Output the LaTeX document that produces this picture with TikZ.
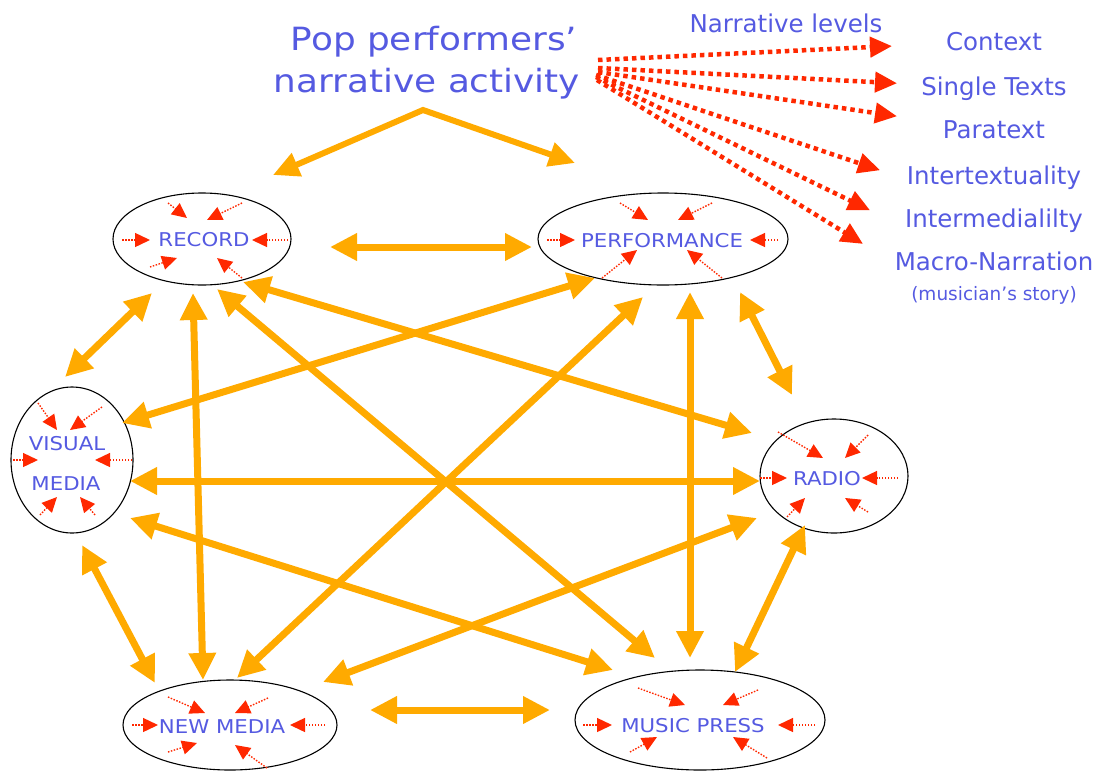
\documentclass[tikz,border=0pt]{standalone}
\usepackage{fontspec}
\setmainfont{DejaVu Sans}
\newfontfamily\widefont{DejaVu Sans}[FakeStretch=1.12]
\usetikzlibrary{arrows.meta,shapes.geometric,calc}
\definecolor{txtblue}{RGB}{85,90,225}
\definecolor{oran}{RGB}{255,170,0}
\definecolor{redd}{RGB}{255,40,0}
\tikzset{
 ell/.style={draw=black, line width=1.1pt, ellipse, inner sep=0pt},
 lab/.style={text=txtblue, anchor=base, inner sep=0pt, font=\widefont\fontsize{19}{22}\selectfont},
 ttl/.style={text=txtblue, anchor=base, inner sep=0pt, font=\widefont\fontsize{32}{38}\selectfont},
 lvl/.style={text=txtblue, anchor=base, inner sep=0pt, font=\fontsize{24.5}{28}\selectfont},
 oarr/.style={draw=oran, line width=7pt, {Triangle[length=27pt,width=26pt]}-{Triangle[length=27pt,width=26pt]}},
 tarr/.style={draw=oran, line width=6pt, line join=miter, {Triangle[length=26pt,width=24pt]}-{Triangle[length=26pt,width=24pt]}},
 rarr/.style={draw=redd, line width=4.5pt, dash pattern=on 4.5pt off 4pt, -{Triangle[length=22pt,width=20pt]}},
 sarr/.style={draw=redd, line width=1.4pt, dash pattern=on 1.5pt off 1.5pt, -{Triangle[length=15pt,width=14pt]}},
}
\newcommand\sa[3]{\draw[sarr] ($(#1)+(#2)$) -- ($(#1)+(#3)$);}
\begin{document}
\begin{tikzpicture}[x=1pt,y=-1pt]
\useasboundingbox (0,0) rectangle (1107,771);
% ellipses
\node[ell, minimum width=178pt, minimum height=92pt] (rec) at (202,239) {};
\node[ell, minimum width=250pt, minimum height=92pt] (perf) at (663,239) {};
\node[ell, minimum width=122pt, minimum height=146pt] (vis) at (72,460) {};
\node[ell, minimum width=148pt, minimum height=114pt] (rad) at (834,476) {};
\node[ell, minimum width=214pt, minimum height=90pt] (nm) at (230,725) {};
\node[ell, minimum width=250pt, minimum height=100pt] (mp) at (700,720) {};
% labels
\node[lab] (recL) at (204,246) {RECORD};
\node[lab] (perfL) at (662,247) {PERFORMANCE};
\node[lab] (visL1) at (67,450) {VISUAL};
\node[lab] (visL2) at (66,490) {MEDIA};
\node[lab] (radL) at (827,485) {RADIO};
\node[lab] (nmL) at (222,733) {NEW MEDIA};
\node[lab] (mpL) at (693,732) {MUSIC PRESS};
% title
\node[ttl] (t1) at (434,50) {Pop performers’};
\node[ttl] (t2) at (427,92) {narrative activity};
\coordinate (apex) at (423,110);
\coordinate (tl) at (273,175);
\coordinate (tr) at (575,163);
\draw[tarr] (tl) -- (apex) -- (tr);
% narrative levels
\node[lvl] (nl) at (786,32) {Narrative levels};
\node[lvl] (ctx) at (994,50) {Context};
\node[lvl] (sgl) at (994,95) {Single Texts};
\node[lvl] (par) at (994,138) {Paratext};
\node[lvl] (itx) at (994,184) {Intertextuality};
\node[lvl] (imd) at (994,227) {Intermedialilty};
\node[lvl] (mac) at (994,270) {Macro-Narration};
\node[text=txtblue, anchor=base, inner sep=0pt, font=\fontsize{18.5}{22}\selectfont] (mus) at (994,300) {(musician’s story)};
\coordinate (src) at (597,68);
\draw[rarr] ($(src)+(1,-8)$) -- ($(ctx)+(-102,5)$);
\draw[rarr] ($(src)+(1,0)$) -- ($(sgl)+(-97,-5)$);
\draw[rarr] ($(src)+(1,4)$) -- ($(par)+(-97,-13)$);
\draw[rarr] ($(src)+(-1,7)$) -- ($(itx)+(-114,-7)$);
\draw[rarr] ($(src)+(-1,9)$) -- ($(imd)+(-124,-10)$);
\draw[rarr] ($(src)+(0,12)$) -- ($(mac)+(-131,-17)$);
% orange connectors
\draw[oarr] ($(rec)+(128,8)$) -- ($(perf)+(-131,8)$);
\draw[oarr] ($(nm)+(140,-15)$) -- ($(mp)+(-150,-10)$);
\draw[oarr] ($(rec)+(-50,54)$) -- ($(vis)+(-7,-83)$);
\draw[oarr] ($(rec)+(-9,54)$) -- ($(nm)+(-27,-45)$);
\draw[oarr] ($(rec)+(15,50)$) -- ($(mp)+(-45,-62)$);
\draw[oarr] ($(rec)+(41,43)$) -- ($(rad)+(-82,-43)$);
\draw[oarr] ($(perf)+(-68,39)$) -- ($(vis)+(50,-37)$);
\draw[oarr] ($(perf)+(-20,58)$) -- ($(nm)+(7,-47)$);
\draw[oarr] ($(perf)+(27,53)$) -- ($(mp)+(-10,-62)$);
\draw[oarr] ($(perf)+(77,53)$) -- ($(rad)+(-42,-81)$);
\draw[oarr] ($(vis)+(58,21)$) -- ($(rad)+(-74,5)$);
\draw[oarr] ($(vis)+(58,58)$) -- ($(mp)+(-87,-50)$);
\draw[oarr] ($(vis)+(10,85)$) -- ($(nm)+(-75,-42)$);
\draw[oarr] ($(rad)+(-77,42)$) -- ($(nm)+(93,-43)$);
\draw[oarr] ($(rad)+(-29,49)$) -- ($(mp)+(35,-48)$);
% small inward arrows
\sa{rec}{-80,1}{-52,1} \sa{rec}{86,1}{50,1} \sa{rec}{-34,-36}{-15,-21}
\sa{rec}{40,-36}{5,-19} \sa{rec}{-52,28}{-25,19} \sa{rec}{40,39}{15,19}
\sa{perf}{-116,1}{-88,1} \sa{perf}{115,1}{87,1} \sa{perf}{-43,-36}{-15,-19}
\sa{perf}{49,-36}{15,-19} \sa{perf}{-61,39}{-26,11} \sa{perf}{59,39}{24,11}
\sa{vis}{-59,0}{-34,0} \sa{vis}{60,0}{23,0} \sa{vis}{-34,-57}{-15,-30}
\sa{vis}{30,-53}{-2,-30} \sa{vis}{-32,55}{-15,37} \sa{vis}{23,55}{8,37}
\sa{rad}{-74,2}{-47,2} \sa{rad}{64,2}{28,2} \sa{rad}{-56,-44}{-11,-18}
\sa{rad}{34,-41}{11,-18} \sa{rad}{-47,41}{-29,22} \sa{rad}{34,36}{11,22}
\sa{nm}{-98,0}{-72,0} \sa{nm}{95,0}{60,0} \sa{nm}{-62,-28}{-25,-12}
\sa{nm}{38,-27}{5,-12} \sa{nm}{-62,27}{-33,18} \sa{nm}{37,43}{5,20}
\sa{mp}{-117,5}{-88,5} \sa{mp}{115,5}{78,5} \sa{mp}{-62,-32}{-15,-15}
\sa{mp}{58,-30}{23,-15} \sa{mp}{-70,32}{-43,17} \sa{mp}{67,38}{33,17}
\end{tikzpicture}
\end{document}
